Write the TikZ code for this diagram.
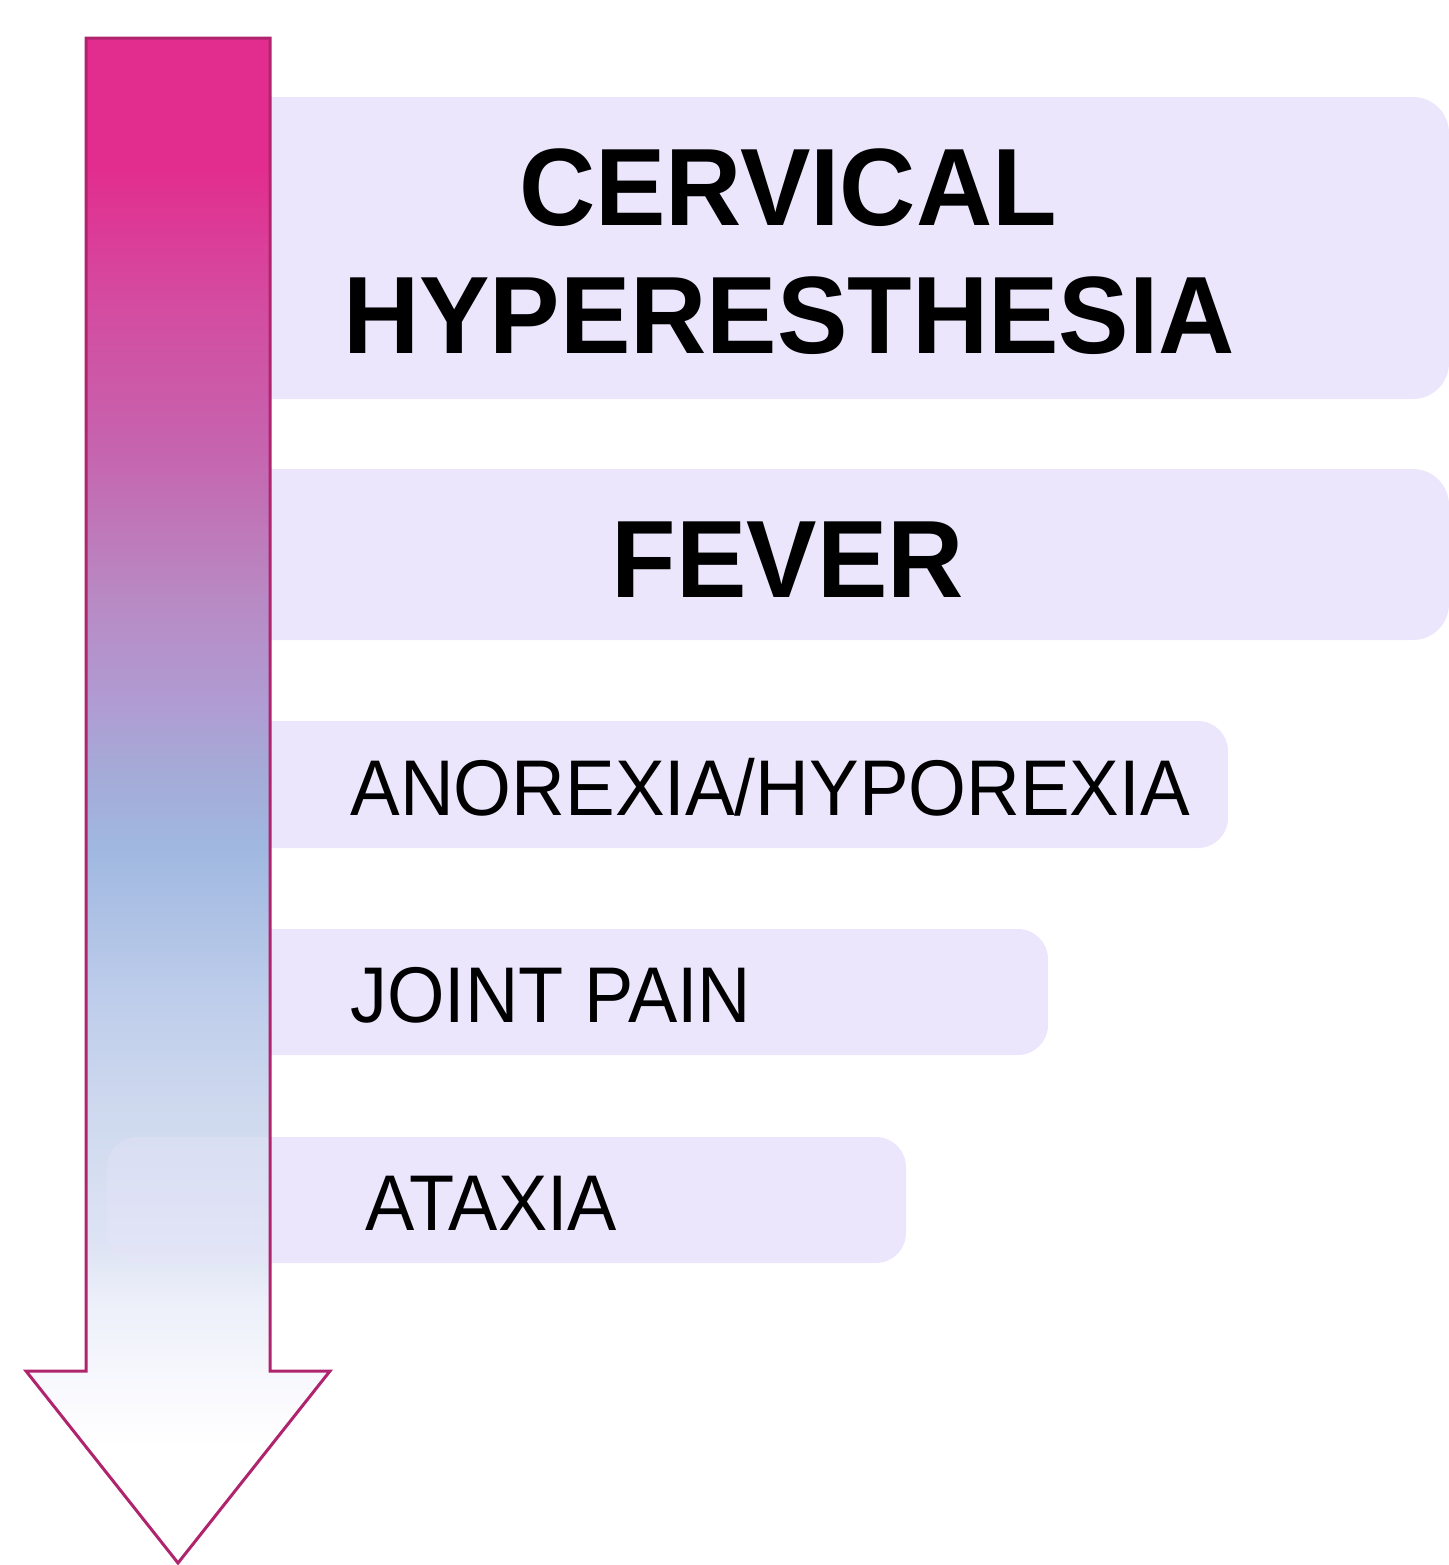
\documentclass[tikz,border=0pt]{standalone}
\usepackage{fontspec}
\setmainfont{Liberation Sans}
\definecolor{boxfill}{RGB}{236,230,252}
\definecolor{arrowline}{RGB}{176,36,110}
\definecolor{sA}{RGB}{250,250,254}
\definecolor{sA2}{RGB}{236,239,249}
\definecolor{sB}{RGB}{222,228,244}
\definecolor{sC}{RGB}{205,216,238}
\definecolor{sD}{RGB}{190,205,235}
\definecolor{sE}{RGB}{160,184,224}
\definecolor{sF}{RGB}{165,170,215}
\definecolor{sG}{RGB}{176,155,210}
\definecolor{sH}{RGB}{184,138,196}
\definecolor{sI}{RGB}{198,100,175}
\definecolor{sJ}{RGB}{212,75,160}
\definecolor{sK}{RGB}{226,45,142}
\pgfdeclareverticalshading{arrowshade}{100bp}{color(0bp)=(white); color(28.8bp)=(white); color(30.4bp)=(sA); color(33.7bp)=(sA2); color(35.3bp)=(sB); color(40.2bp)=(sC); color(43.5bp)=(sD); color(48.4bp)=(sE); color(51bp)=(sF); color(53.3bp)=(sG); color(56.6bp)=(sH); color(61.5bp)=(sI); color(66.4bp)=(sJ); color(70.7bp)=(sK); color(100bp)=(sK)}
\tikzset{
  boxshape/.style={fill=boxfill, draw=none},
  boldlabel/.style={inner sep=0pt, anchor=base, font=\fontsize{55}{66}\selectfont\bfseries},
  plainlabel/.style={inner sep=0pt, anchor=base west, font=\fontsize{39.5}{47}\selectfont},
}
\begin{document}
\begin{tikzpicture}[x=0.5pt,y=-0.5pt]
\useasboundingbox (0,0) rectangle (1449,1565);
% boxes
\fill[boxshape] (200,97) {[rounded corners=18pt] -- (1449,97) -- (1449,399)} -- (200,399) -- cycle;
\fill[boxshape] (200,469) {[rounded corners=18pt] -- (1449,469) -- (1449,640)} -- (200,640) -- cycle;
\fill[boxshape] (200,721) {[rounded corners=15pt] -- (1228,721) -- (1228,848)} -- (200,848) -- cycle;
\fill[boxshape] (200,929) {[rounded corners=15pt] -- (1048,929) -- (1048,1055)} -- (200,1055) -- cycle;
\fill[boxshape, rounded corners=15pt] (107,1137) rectangle (906,1263);
% arrow
\coordinate (tl) at (86,38);
\coordinate (tr) at (270,38);
\coordinate (tip) at (178,1563);
\shade[shading=arrowshade] (tl) -- (tr) -- (270,1371) -- (330,1371) -- (tip) -- (26,1371) -- (86,1371) -- cycle;
\fill[boxfill, fill opacity=0.3, rounded corners=15pt] (107,1137) rectangle (300,1263);
\draw[arrowline, line width=1.5pt, line join=miter] (tl) -- (tr) -- (270,1371) -- (330,1371) -- (tip) -- (26,1371) -- (86,1371) -- cycle;
% labels
\node[boldlabel] (cerv) at (788,225) {\scalebox{0.96}[1]{CERVICAL}};
\node[boldlabel] (hyper) at (789,353) {\scalebox{0.96}[1]{HYPERESTHESIA}};
\node[boldlabel] (fever) at (788,597) {\scalebox{0.96}[1]{FEVER}};
\node[plainlabel] (anor) at (350,815) {\scalebox{0.942}[1]{ANOREXIA/HYPOREXIA}};
\node[plainlabel] (joint) at (350,1022) {\scalebox{0.935}[1]{JOINT PAIN}};
\node[plainlabel] (atax) at (365,1230) {\scalebox{0.935}[1]{ATAXIA}};
\end{tikzpicture}
\end{document}
